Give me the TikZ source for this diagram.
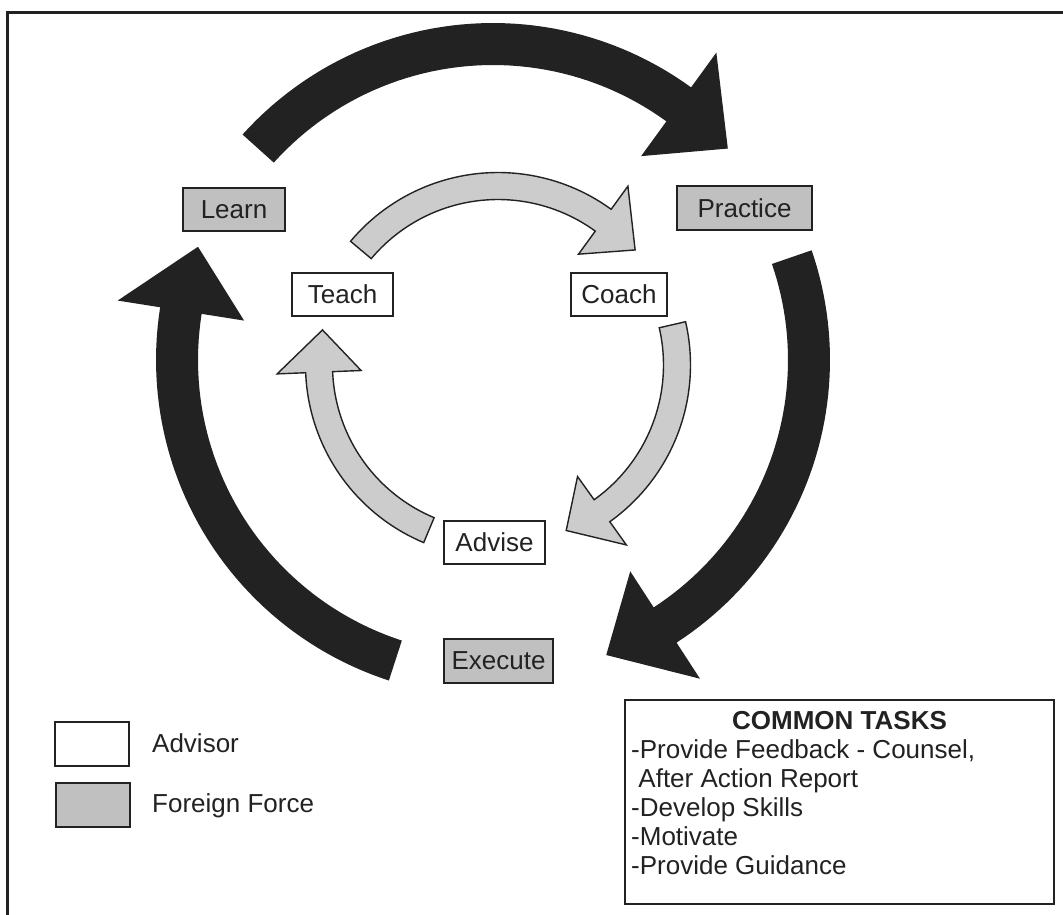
\documentclass[tikz,border=0pt]{standalone}
\usepackage{fontspec}
\setmainfont{Liberation Sans}
\definecolor{ink}{HTML}{222222}
\definecolor{boxgray}{HTML}{C0C0C0}
\definecolor{arrowgray}{HTML}{CCCCCC}
\newcommand{\cyclearrow}[9]{%
  \path[#9] plot[domain=#6:#7, samples=50] ({#1+(#3+#4)*cos(\x)},{#2+(#3+#4)*sin(\x)})
    -- ({#1+(#3+#5)*cos(#7)},{#2+(#3+#5)*sin(#7)})
    -- ({#1+#3*cos(#8)},{#2+#3*sin(#8)})
    -- ({#1+(#3-#5)*cos(#7)},{#2+(#3-#5)*sin(#7)})
    -- plot[domain=#7:#6, samples=50] ({#1+(#3-#4)*cos(\x)},{#2+(#3-#4)*sin(\x)})
    -- cycle;}
\tikzset{
  lbl/.style={font=\fontsize{26}{29}\selectfont, text=ink},
  ffbox/.style={lbl, draw=ink, fill=boxgray, line width=1.6pt, inner sep=0pt},
  advbox/.style={lbl, draw=ink, fill=white, line width=1.6pt, inner sep=0pt},
  bigarrow/.style={fill=ink},
  smallarrow/.style={fill=arrowgray, draw=ink, line width=1.4pt, line join=miter},
  tasktext/.style={lbl, anchor=base west, inner sep=0pt},
}
\begin{document}
\begin{tikzpicture}[x=1pt,y=-1pt]
\useasboundingbox (0,0) rectangle (1063,914);
\clip (0,0) rectangle (1063,914);
\fill[white] (0,0) rectangle (1063,914);
% outer frame
\draw[ink, line width=3pt] (7,930) -- (7,12) -- (1080,12);

% black outer cycle arrows
\cyclearrow{493}{360}{316}{21}{64}{-138}{-54}{-42}{bigarrow}
\cyclearrow{493}{360}{316}{21}{64}{-19}{57}{69}{bigarrow}
\cyclearrow{493}{360}{316}{21}{64}{108}{189}{201}{bigarrow}

% grey inner cycle arrows
\cyclearrow{498}{365}{179}{13.5}{42}{-140}{-54}{-40}{smallarrow}
\cyclearrow{498}{365}{179}{13.5}{42}{-13}{54.5}{67.6}{smallarrow}
\cyclearrow{498}{365}{179}{13.5}{42}{112.7}{177.7}{191.3}{smallarrow}

% foreign force boxes
\node[ffbox, minimum width=102pt, minimum height=43pt] (learn) at (234,209.5) {Learn};
\node[ffbox, minimum width=135pt, minimum height=44pt] (practice) at (744.5,208) {Practice};
\node[ffbox, minimum width=109pt, minimum height=44pt] (execute) at (498.5,661) {Execute};

% advisor boxes
\node[advbox, minimum width=101pt, minimum height=43pt] (teach) at (342.5,294.5) {Teach};
\node[advbox, minimum width=96pt, minimum height=43pt] (coach) at (619,294.5) {Coach};
\node[advbox, minimum width=101pt, minimum height=43pt] (advise) at (494.5,542.5) {Advise};

% legend
\node[advbox, minimum width=74pt, minimum height=44pt] (legadv) at (92,744) {};
\node[ffbox, minimum width=74pt, minimum height=44pt] (legff) at (93,805) {};
\node[tasktext] (legadvtxt) at (152,752) {Advisor};
\node[tasktext] (legfftxt) at (152,812) {Foreign Force};

% common tasks
\node[draw=ink, line width=1.6pt, minimum width=429pt, minimum height=204pt, inner sep=0pt] (tasks) at (839.5,802) {};
\node[lbl, anchor=base, inner sep=0pt, font=\fontsize{26}{29}\selectfont\bfseries] (taskhead) at (839.5,729) {COMMON TASKS};
\node[tasktext] (t1) at (631,758) {-Provide Feedback - Counsel,};
\node[tasktext] (t2) at (631,787) {\ After Action Report};
\node[tasktext] (t3) at (631,816) {-Develop Skills};
\node[tasktext] (t4) at (631,845) {-Motivate};
\node[tasktext] (t5) at (631,874) {-Provide Guidance};
\end{tikzpicture}
\end{document}
